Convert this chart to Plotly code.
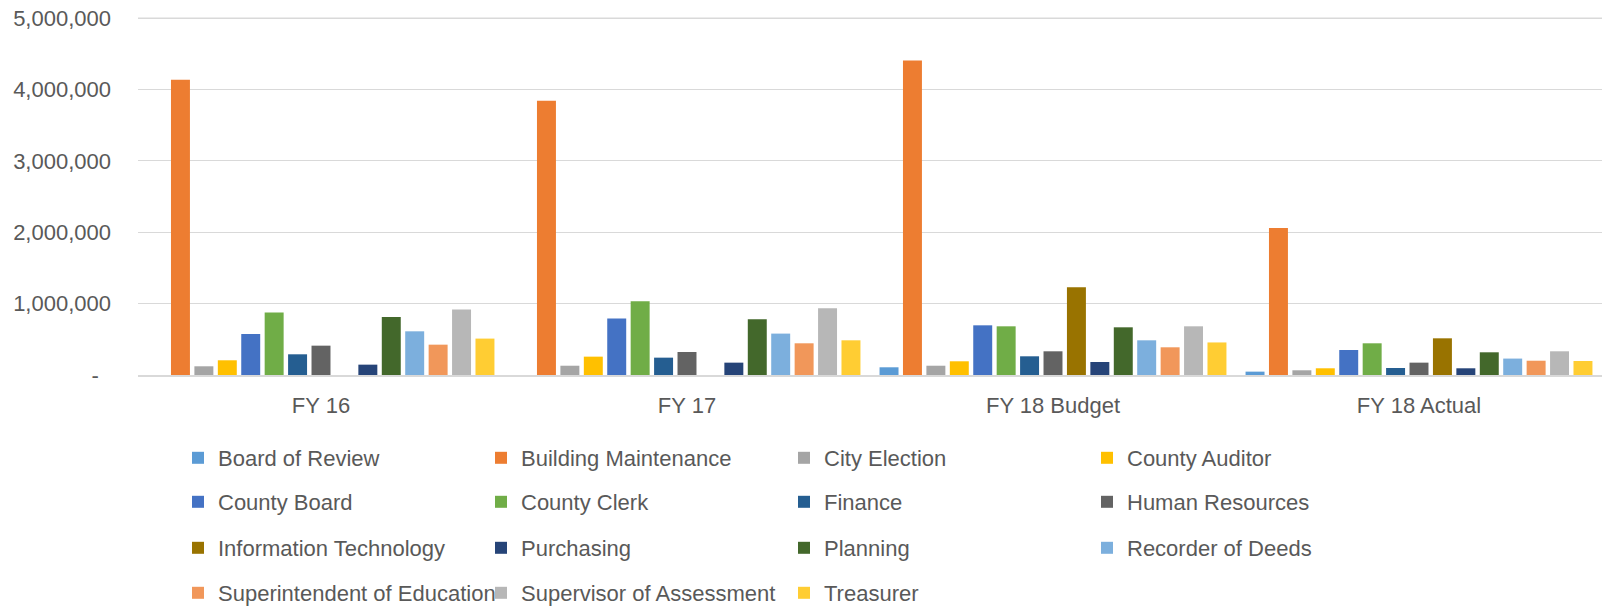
import plotly.graph_objects as go

categories = ["FY 16", "FY 17", "FY 18 Budget", "FY 18 Actual"]

departments = [
    "Board of Review", "Building Maintenance", "City Election", "County Auditor",
    "County Board", "County Clerk", "Finance", "Human Resources",
    "Information Technology", "Purchasing", "Planning", "Recorder of Deeds",
    "Superintendent of Education", "Supervisor of Assessment", "Treasurer",
]

board_of_review = [0, 0, 108000, 47000]
building_maintenance = [4137000, 3843000, 4407000, 2059000]
city_election = [122000, 130000, 130000, 66000]
county_auditor = [206000, 257000, 192000, 94000]
county_board = [574000, 790000, 696000, 350000]
county_clerk = [874000, 1032000, 682000, 444000]
finance = [290000, 243000, 262000, 98000]
human_resources = [411000, 322000, 332000, 173000]
information_technology = [0, 0, 1228000, 514000]
purchasing = [145000, 173000, 182000, 94000]
planning = [812000, 780000, 668000, 318000]
recorder_of_deeds = [612000, 580000, 486000, 230000]
superintendent_of_education = [425000, 444000, 388000, 200000]
supervisor_of_assessment = [916000, 934000, 682000, 332000]
treasurer = [510000, 486000, 456000, 196000]

series_values = [
    board_of_review, building_maintenance, city_election, county_auditor,
    county_board, county_clerk, finance, human_resources,
    information_technology, purchasing, planning, recorder_of_deeds,
    superintendent_of_education, supervisor_of_assessment, treasurer,
]

colors = [
    "#5B9BD5", "#ED7D31", "#A5A5A5", "#FFC000",
    "#4472C4", "#70AD47", "#255E91", "#636363",
    "#997300", "#264478", "#43682B", "#7CAFDD",
    "#F1975A", "#B7B7B7", "#FFCD33",
]

y_tick_vals = [0, 1000000, 2000000, 3000000, 4000000, 5000000]
y_tick_text = ["-\u00a0\u00a0", "1,000,000", "2,000,000", "3,000,000", "4,000,000", "5,000,000"]

legend_names = ["legend", "legend2", "legend3", "legend4"]

FONT = "Liberation Sans"
TXT = "#595959"
GRID = "#D9D9D9"

fig = go.Figure()
for i, (name, vals, col) in enumerate(zip(departments, series_values, colors)):
    fig.add_trace(go.Bar(
        name=name, x=categories, y=vals,
        marker=dict(color=col, line=dict(width=0)),
        legend=legend_names[i // 4],
        hovertemplate="%{x}<br>" + name + ": %{y:,.0f}<extra></extra>",
    ))

W, H = 1608, 608
L, R, T, B = 138, 6, 17, 233
plot_h = H - T - B

def ypaper(py):
    return (H - B - py) / plot_h

def xpaper(px):
    return (px - L) / (W - L - R)

row_y = [458, 502, 548, 593]
leg_common = dict(
    orientation="h", xanchor="left", yanchor="middle",
    entrywidth=258, entrywidthmode="pixels",
    font=dict(family=FONT, size=22, color=TXT),
    bgcolor="rgba(0,0,0,0)", itemclick=False, itemdoubleclick=False,
    traceorder="normal",
)

layout_legends = {}
for k, ln in enumerate(legend_names):
    layout_legends[ln] = dict(leg_common, x=xpaper(178), y=ypaper(row_y[k]))

y_top = max(y_tick_vals)

fig.update_layout(
    width=W, height=H,
    margin=dict(l=L, r=R, t=T, b=B, autoexpand=False),
    paper_bgcolor="white", plot_bgcolor="white",
    barmode="group", bargap=0.04, bargroupgap=0.19,
    font=dict(family=FONT, size=22, color=TXT),
    showlegend=True,
    xaxis=dict(
        showgrid=False, showline=True, linecolor=GRID, linewidth=1.5,
        ticks="", tickfont=dict(family=FONT, size=22, color=TXT),
        ticklabelstandoff=10, automargin=False,
    ),
    yaxis=dict(
        range=[0, y_top * 1.003], tickvals=y_tick_vals, ticktext=y_tick_text,
        showgrid=True, gridcolor=GRID, gridwidth=1.3,
        zeroline=False, showline=False, ticks="",
        tickfont=dict(family=FONT, size=22, color=TXT),
        ticklabelstandoff=26, automargin=False,
    ),
    shapes=[dict(type="line", xref="paper", x0=0, x1=1, yref="y", y0=y_top, y1=y_top,
                 line=dict(color=GRID, width=1.3), layer="below")],
    **layout_legends,
)

fig.write_html("out.html", config={"displayModeBar": False},
               post_script="document.body.style.margin='0px';")
